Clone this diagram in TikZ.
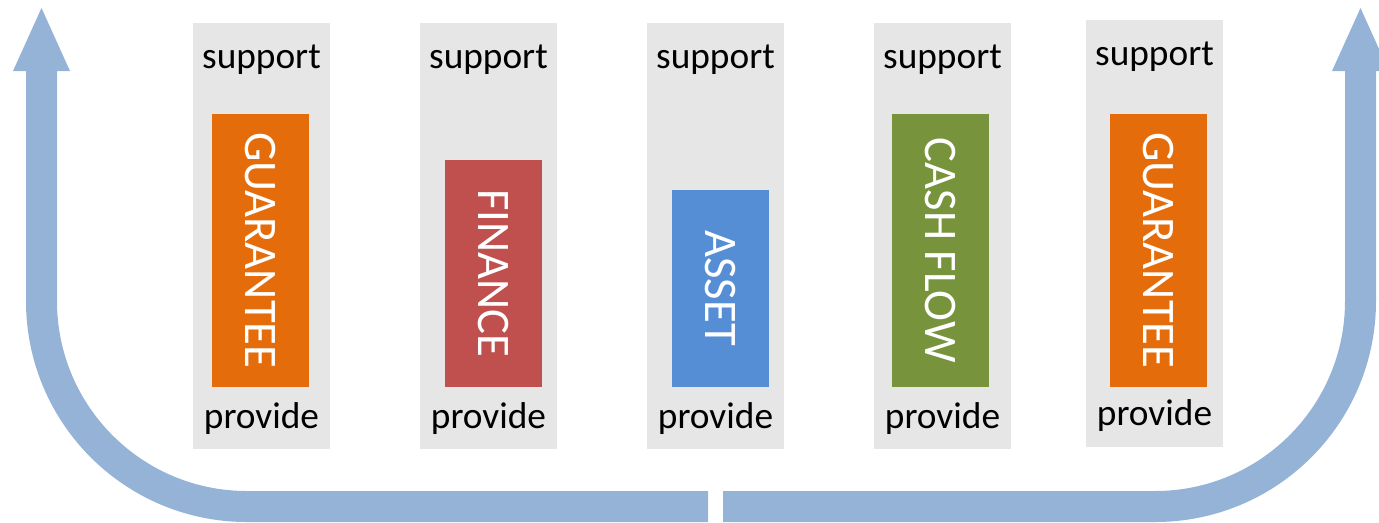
\documentclass[tikz,border=0pt]{standalone}
\usepackage{fontspec}
\setmainfont{Carlito}
\definecolor{flowblue}{HTML}{95B3D7}
\definecolor{panelgray}{HTML}{E6E6E6}
\definecolor{guarorange}{HTML}{E46C0A}
\definecolor{finred}{HTML}{C0504D}
\definecolor{assetblue}{HTML}{558ED5}
\definecolor{cashgreen}{HTML}{77933C}
\begin{document}
\begin{tikzpicture}[x=0.75pt,y=-0.75pt,
  panel/.style={fill=panelgray, draw=none, inner sep=0pt, outer sep=0pt,
    minimum width=102.75pt, minimum height=319.5pt},
  word/.style={anchor=base, inner sep=0pt, text=black,
    font=\fontsize{28}{28}\selectfont},
  tag/.style={rotate=-90, fill=#1, text=white, inner sep=0pt, outer sep=0pt,
    minimum height=72.75pt, font=\fontsize{35}{35}\selectfont},
  flow/.style={draw=flowblue, line width=23.25pt, rounded corners=154pt},
  head/.style={fill=flowblue, draw=none}]
\useasboundingbox (0,0) rectangle (1379,522);
\clip (0,0) rectangle (1379,522);

% U-shaped return arrows
\coordinate (lt) at (41.5,62);
\coordinate (lc) at (41.5,506.5);
\coordinate (le) at (708,506.5);
\coordinate (rs) at (723,506.5);
\coordinate (rc) at (1360.5,506.5);
\coordinate (rt) at (1360.5,62);
\draw[flow] (lt) -- (lc) -- (le);
\draw[flow] (rs) -- (rc) -- (rt);
\fill[head] (13,71) -- (41.5,8) -- (70,71) -- cycle;
\fill[head] (1332,71) -- (1360.5,8) -- (1389,71) -- cycle;

% grey panels
\node[panel] (p1) at (261.5,236) {};
\node[panel] (p2) at (488.5,236) {};
\node[panel] (p3) at (715.5,236) {};
\node[panel] (p4) at (942.5,236) {};
\node[panel, minimum height=319.9pt] (p5) at (1154.5,233.25) {};

% panel captions
\node[word] (s1) at (261.5,68) {support};
\node[word] (s2) at (488.5,68) {support};
\node[word] (s3) at (715.5,68) {support};
\node[word] (s4) at (942.5,68) {support};
\node[word] (s5) at (1154.5,65) {support};
\node[word] (v1) at (261.5,428) {provide};
\node[word] (v2) at (488.5,428) {provide};
\node[word] (v3) at (715.5,428) {provide};
\node[word] (v4) at (942.5,428) {provide};
\node[word] (v5) at (1154.5,425) {provide};

% coloured labels
\node[tag=guarorange, minimum width=204.4pt] (g1) at (260.5,250.25) {GUARANTEE};
\node[tag=finred, minimum width=169.9pt] (f2) at (493.5,273.25) {FINANCE};
\node[tag=assetblue, minimum width=147.4pt] (a3) at (720.5,288.25) {ASSET};
\node[tag=cashgreen, minimum width=204.4pt] (c4) at (940.5,250.25) {CASH FLOW};
\node[tag=guarorange, minimum width=204.4pt] (g5) at (1158.5,250.25) {GUARANTEE};
\end{tikzpicture}
\end{document}
